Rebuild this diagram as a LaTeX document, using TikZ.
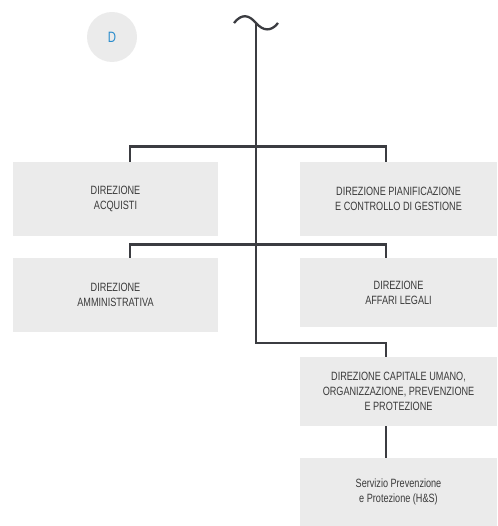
\documentclass[tikz,border=0pt]{standalone}
\usepackage{fontspec}
\setmainfont{Liberation Sans}[FakeStretch=0.76]
\usetikzlibrary{positioning}

\definecolor{linegray}{HTML}{3B3C41}
\definecolor{boxgray}{HTML}{EBEBEB}
\definecolor{textgray}{HTML}{3A3A3A}
\definecolor{dblue}{HTML}{2A8CCC}

\tikzset{
  unit/.style={rectangle, fill=boxgray, align=center, text=textgray, font=\fontsize{12}{15}\selectfont, inner sep=0pt},
  link/.style={line width=2.3pt, color=linegray}
}

\begin{document}
\begin{tikzpicture}[x=1pt, y=-1pt]
\useasboundingbox (0,0) rectangle (497,526);
% badge
\node[circle, fill=boxgray, minimum size=50pt, text=dblue, font=\fontsize{15}{16}\selectfont] (badge) at (112,37) {D};
% boxes
\node[unit, minimum width=205pt, minimum height=74pt] (acq) at (115.5,199) {DIREZIONE\\ACQUISTI};
\node[unit, minimum width=197pt, minimum height=74pt] (pia) at (398.5,199) {DIREZIONE PIANIFICAZIONE\\E CONTROLLO DI GESTIONE};
\node[unit, minimum width=205pt, minimum height=74pt] (amm) at (115.5,295) {DIREZIONE\\AMMINISTRATIVA};
\node[unit, minimum width=197pt, minimum height=69pt] (leg) at (398.5,292.5) {DIREZIONE\\AFFARI LEGALI};
\node[unit, minimum width=197pt, minimum height=69pt] (cap) at (398.5,391.5) {DIREZIONE CAPITALE UMANO,\\ORGANIZZAZIONE, PREVENZIONE\\E PROTEZIONE};
\node[unit, minimum width=197pt, minimum height=68pt] (hs) at (398.5,492) {Servizio Prevenzione\\e Protezione (H\&S)};
% trunk
\coordinate (top) at (256,23);
\coordinate (j1) at (256,146.5);
\coordinate (j2) at (256,244.5);
\coordinate (j3) at (256,343);
\draw[link] (234,23) .. controls (242,13) and (249,15) .. (top) .. controls (263,31) and (271,32) .. (278,23);
\draw[link] (top) -- (j3) -| ([xshift=-12.5pt]cap.north);
\draw[link] ([xshift=14.5pt]acq.north) |- (j1) -| ([xshift=-12.5pt]pia.north);
\draw[link] ([xshift=14.5pt]amm.north) |- (j2) -| ([xshift=-12.5pt]leg.north);
\draw[link] ([xshift=-12.5pt]cap.south) -- ([xshift=-12.5pt]hs.north);
\end{tikzpicture}
\end{document}
